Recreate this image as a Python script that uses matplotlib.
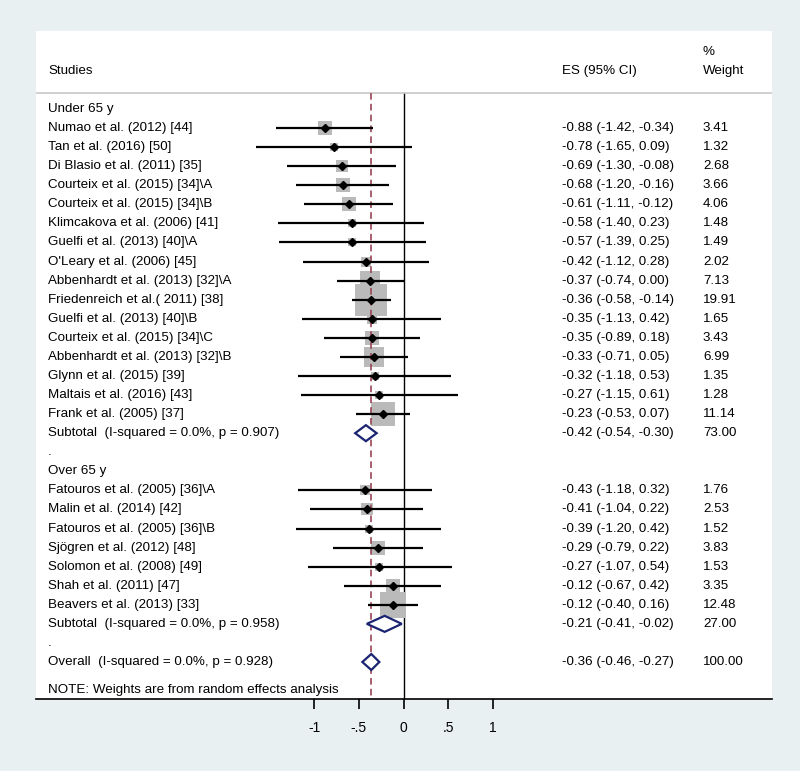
import matplotlib.pyplot as plt
from matplotlib.patches import Polygon
from matplotlib.transforms import blended_transform_factory

# studies, under 65 y
under_names = ["Numao et al. (2012) [44]", "Tan et al. (2016) [50]",
               "Di Blasio et al. (2011) [35]", "Courteix et al. (2015) [34]\\A",
               "Courteix et al. (2015) [34]\\B", "Klimcakova et al. (2006) [41]",
               "Guelfi et al. (2013) [40]\\A", "O'Leary et al. (2006) [45]",
               "Abbenhardt et al. (2013) [32]\\A", "Friedenreich et al.( 2011) [38]",
               "Guelfi et al. (2013) [40]\\B", "Courteix et al. (2015) [34]\\C",
               "Abbenhardt et al. (2013) [32]\\B", "Glynn et al. (2015) [39]",
               "Maltais et al. (2016) [43]", "Frank et al. (2005) [37]"]
under_es = [-0.88, -0.78, -0.69, -0.68, -0.61, -0.58, -0.57, -0.42,
            -0.37, -0.36, -0.35, -0.35, -0.33, -0.32, -0.27, -0.23]
under_lo = [-1.42, -1.65, -1.30, -1.20, -1.11, -1.40, -1.39, -1.12,
            -0.74, -0.58, -1.13, -0.89, -0.71, -1.18, -1.15, -0.53]
under_hi = [-0.34, 0.09, -0.08, -0.16, -0.12, 0.23, 0.25, 0.28,
            0.00, -0.14, 0.42, 0.18, 0.05, 0.53, 0.61, 0.07]
under_wt = [3.41, 1.32, 2.68, 3.66, 4.06, 1.48, 1.49, 2.02,
            7.13, 19.91, 1.65, 3.43, 6.99, 1.35, 1.28, 11.14]

# studies, over 65 y
over_names = ["Fatouros et al. (2005) [36]\\A", "Malin et al. (2014) [42]",
              "Fatouros et al. (2005) [36]\\B", "Sjögren et al. (2012) [48]",
              "Solomon et al. (2008) [49]", "Shah et al. (2011) [47]",
              "Beavers et al. (2013) [33]"]
over_es = [-0.43, -0.41, -0.39, -0.29, -0.27, -0.12, -0.12]
over_lo = [-1.18, -1.04, -1.20, -0.79, -1.07, -0.67, -0.40]
over_hi = [0.32, 0.22, 0.42, 0.22, 0.54, 0.42, 0.16]
over_wt = [1.76, 2.53, 1.52, 3.83, 1.53, 3.35, 12.48]

group_names = ["Under 65 y", "Over 65 y"]
sub_labels = ["Subtotal  (I-squared = 0.0%, p = 0.907)",
              "Subtotal  (I-squared = 0.0%, p = 0.958)"]
sub_es = [-0.42, -0.21]
sub_lo = [-0.54, -0.41]
sub_hi = [-0.30, -0.02]
sub_wt = [73.00, 27.00]

overall_label = "Overall  (I-squared = 0.0%, p = 0.928)"
overall_es = -0.36
overall_lo = -0.46
overall_hi = -0.27
overall_wt = 100.00

note = "NOTE: Weights are from random effects analysis"
xticks = [-1, -0.5, 0, 0.5, 1]
xtick_labels = ["-1", "-.5", "0", ".5", "1"]

BG = "#e9f0f2"
BOX = "#bababa"
NAVY = "#1b2470"
MAROON = "#9a4655"
FONT = ["Liberation Sans", "DejaVu Sans"]
FS = 9.6

plt.rcParams["font.family"] = FONT

fig = plt.figure(figsize=(8, 7.71), dpi=100, facecolor=BG)
ax = fig.add_axes([0.045, 0.0934, 0.92, 0.8664])
ax.set_facecolor("white")
ax.set_xlim(-4.106, 4.117)
ax.set_ylim(29.94, -5.09)

tr = blended_transform_factory(ax.transAxes, ax.transData)
X_LAB, X_ES, X_WT = 0.0163, 0.7147, 0.9062


def es_text(es, lo, hi):
    return "%.2f (%.2f, %.2f)" % (es, lo, hi)


def row_text(y, label, es=None, lo=None, hi=None, wt=None):
    ax.text(X_LAB, y, label, transform=tr, va="center", fontsize=FS)
    if es is not None:
        ax.text(X_ES, y, es_text(es, lo, hi), transform=tr, va="center", fontsize=FS)
        ax.text(X_WT, y, "%.2f" % wt, transform=tr, va="center", fontsize=FS)


def diamond(y, es, lo, hi):
    h = 0.42
    ax.add_patch(Polygon([(lo, y), (es, y - h), (hi, y), (es, y + h)], closed=True,
                         facecolor="white", edgecolor=NAVY, lw=1.6, zorder=4))


# header
ax.text(X_LAB, -3, "Studies", transform=tr, va="center", fontsize=FS)
ax.text(X_ES, -3, "ES (95% CI)", transform=tr, va="center", fontsize=FS)
ax.text(X_WT, -4, "%", transform=tr, va="center", fontsize=FS)
ax.text(X_WT, -3, "Weight", transform=tr, va="center", fontsize=FS)
hdr_y = -1.835
ax.axhline(hdr_y, color="#c8c8c8", lw=1.2)

bottom = ax.get_ylim()[0]
ax.plot([0, 0], [hdr_y, bottom], color="black", lw=1.0, zorder=1)
ax.plot([overall_es, overall_es], [hdr_y, bottom], color=MAROON, lw=1.2,
        dashes=(4, 2.5), zorder=3)

groups = [(under_names, under_es, under_lo, under_hi, under_wt),
          (over_names, over_es, over_lo, over_hi, over_wt)]
y = -1
for g, (names, es, lo, hi, wt) in enumerate(groups):
    row_text(y, group_names[g])
    y += 1
    for i in range(len(names)):
        ax.scatter(es[i], y, s=27 * wt[i], marker="s", color=BOX, lw=0, zorder=2)
        ax.plot([lo[i], hi[i]], [y, y], color="black", lw=1.6, zorder=3,
                solid_capstyle="butt")
        ax.plot(es[i], y, marker="D", color="black", markersize=3.6, zorder=4)
        row_text(y, names[i], es[i], lo[i], hi[i], wt[i])
        y += 1
    diamond(y, sub_es[g], sub_lo[g], sub_hi[g])
    row_text(y, sub_labels[g], sub_es[g], sub_lo[g], sub_hi[g], sub_wt[g])
    y += 1
    row_text(y, ".")
    y += 1
diamond(y, overall_es, overall_lo, overall_hi)
row_text(y, overall_label, overall_es, overall_lo, overall_hi, overall_wt)
row_text(y + 1.45, note)

for s in ["top", "left", "right"]:
    ax.spines[s].set_visible(False)
ax.spines["bottom"].set_linewidth(1.2)
ax.set_yticks([])
ax.set_xticks(xticks)
ax.set_xticklabels(xtick_labels, fontsize=10)
ax.tick_params(axis="x", length=7.2, width=1.2, pad=8.5)

fig.savefig("out.png", dpi=100, facecolor=BG)
